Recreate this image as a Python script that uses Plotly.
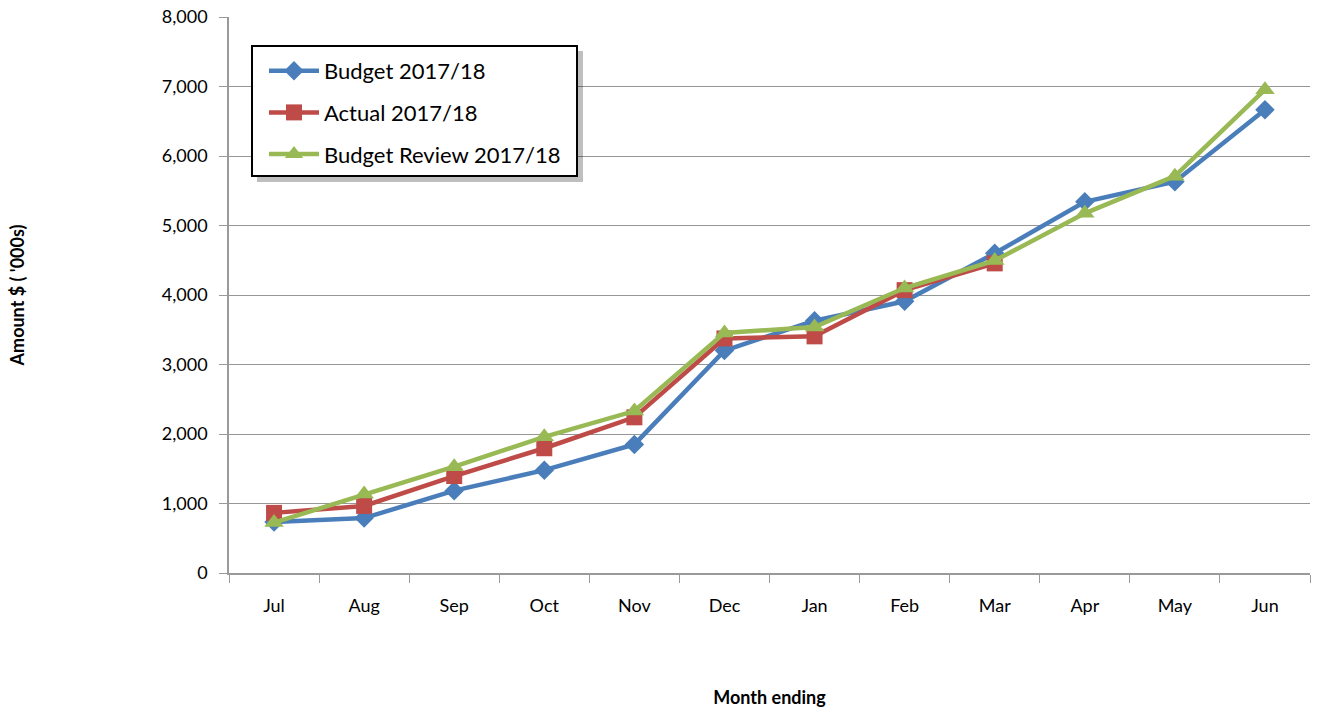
import plotly.graph_objects as go

months = ["Jul", "Aug", "Sep", "Oct", "Nov", "Dec", "Jan", "Feb", "Mar", "Apr", "May", "Jun"]
budget = [735, 790, 1185, 1480, 1850, 3200, 3630, 3910, 4600, 5340, 5630, 6665]
actual = [865, 965, 1395, 1795, 2240, 3375, 3405, 4070, 4455]
review = [725, 1135, 1530, 1960, 2330, 3455, 3540, 4100, 4495, 5175, 5710, 6955]

FONT = "Lato, 'Open Sans', sans-serif"
# plot area at x 229-1310, y 17-573 (page body margin removed in post_script)
W, H = 1321, 711
L, T = 229, 17
R, B = W - 1310, H - 573
PW, PH = W - L - R, H - T - B


def px(sx):
    return (sx - L) / PW


def py(sy):
    return (H - B - sy) / PH


fig = go.Figure()
fig.add_trace(go.Scatter(x=months, y=budget, name="Budget 2017/18", mode="lines+markers",
                         legendgroup="a",
                         line=dict(color="#4A7EBB", width=4.5),
                         marker=dict(symbol="diamond", size=15, color="#4A7EBB")))
fig.add_trace(go.Scatter(x=months[:len(actual)], y=actual, name="Actual 2017/18", mode="lines+markers",
                         legendgroup="b",
                         line=dict(color="#BE4B48", width=4.5),
                         marker=dict(symbol="square", size=16, color="#BE4B48")))
fig.add_trace(go.Scatter(x=months, y=review, name="Budget Review 2017/18", mode="lines+markers",
                         legendgroup="c",
                         line=dict(color="#98B954", width=4.5),
                         marker=dict(symbol="triangle-up", size=17, color="#98B954")))

# legend shadow and frame
fig.add_shape(type="rect", xref="paper", yref="paper",
              x0=px(257), x1=px(583), y0=py(182), y1=py(51),
              fillcolor="rgba(0,0,0,0.25)", line=dict(width=0), layer="above")
fig.add_shape(type="rect", xref="paper", yref="paper",
              x0=px(252), x1=px(577), y0=py(176), y1=py(46),
              fillcolor="white", line=dict(color="black", width=2), layer="above")

fig.update_layout(
    width=W, height=H,
    margin=dict(l=L, r=R, t=T, b=B, autoexpand=False),
    paper_bgcolor="white", plot_bgcolor="white",
    font=dict(family=FONT, size=18, color="black"),
    showlegend=True,
    legend=dict(x=px(264), y=py(50), xanchor="left", yanchor="top",
                bgcolor="rgba(0,0,0,0)", borderwidth=0, itemwidth=50,
                font=dict(family=FONT, size=22), tracegroupgap=10),
    xaxis=dict(type="category", range=[-0.5, 11.5], showgrid=False, showline=True,
               linecolor="#9A9A9A", linewidth=1.5, automargin=False,
               ticks="outside", tickson="boundaries", ticklen=8, tickcolor="#9A9A9A",
               title=dict(text="<b>Month ending</b>", font=dict(size=18), standoff=76),
               ticklabelstandoff=16),
    yaxis=dict(range=[0, 8000], tickmode="array",
               tickvals=[0, 1000, 2000, 3000, 4000, 5000, 6000, 7000, 8000],
               tickformat=",", showgrid=True, gridcolor="#969696", ticklabeloverflow="allow",
               gridwidth=1, showline=True, linecolor="#9A9A9A", linewidth=1.5, automargin=False,
               ticks="outside", ticklen=8, tickcolor="#9A9A9A", zeroline=False,
               title=dict(text="<b>Amount $ ( '000s)</b>", font=dict(size=18), standoff=132),
               ticklabelstandoff=8),
)

fig.write_html("out.html", config={"displayModeBar": False},
               post_script="document.body.style.margin='0';document.body.style.overflow='hidden';")
